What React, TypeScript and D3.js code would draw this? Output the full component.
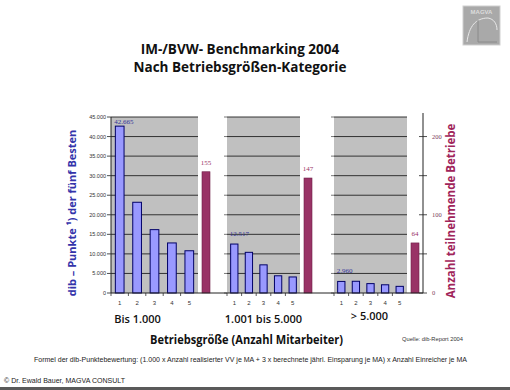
import React from 'react';
import * as d3 from 'd3';

// chart data
const groups = ['Bis 1.000', '1.001 bis 5.000', '> 5.000'];
const ranks = ['1', '2', '3', '4', '5'];
const pointsSmall = [42665, 23200, 16200, 12800, 10800];
const pointsMid = [12517, 10400, 7200, 4400, 4100];
const pointsLarge = [2960, 3000, 2400, 2100, 1700];
const companies = [155, 147, 64];
const leftTicks = [0, 5000, 10000, 15000, 20000, 25000, 30000, 35000, 40000, 45000];
const rightTicks = [0, 50, 100, 150, 200];
const rightLabels = [0, 100, 200];

const points = [pointsSmall, pointsMid, pointsLarge];

const W = 510;
const H = 390;
const panels: [number, number][] = [[111, 198], [227, 300], [334, 407]];
const baseY = 293;
const topY = 117;
const axisRX = 423;

const de = d3.formatLocale({ decimal: ',', thousands: '.', grouping: [3], currency: ['', '€'] });
const fmt = de.format(',.0f');

const BLUE = '#9999ff';
const RED = '#993366';
const SANS = '"Liberation Sans", Arial, sans-serif';
const TITLE = '"Open Sans", "DejaVu Sans", sans-serif';

const App: React.FC = () => {
  const y = d3.scaleLinear().domain([0, 45000]).range([baseY, topY]);
  const yR = d3.scaleLinear().domain([0, 225]).range([baseY, topY]);

  return (
    <div style={{ position: 'absolute', left: 0, top: 0 }}>
      <svg width={W} height={H} style={{ display: 'block', background: '#fff' }}>
        {/* logo */}
        <g>
          <rect x={463} y={6} width={37} height={39} fill="#a9a9a9" stroke="#cfcfcf" />
          <text x={481.5} y={14} textAnchor="middle" fontSize={6} fontFamily={SANS} fill="#dcdcdc" fontWeight="bold">MAGVA</text>
          <path d="M467,42 C469,26 476,18 488,18 C494,19 497,24 497,30" fill="none" stroke="#e8e8e8" strokeWidth={1} />
          <line x1={478} y1={20} x2={478} y2={42} stroke="#8a8a8a" />
          <line x1={478} y1={42} x2={497} y2={42} stroke="#8a8a8a" />
        </g>

        {/* titles */}
        <text x={240} y={54} textAnchor="middle" fontFamily={TITLE} fontWeight="bold" fontSize={13.5} fill="#111">
          IM-/BVW- Benchmarking 2004
        </text>
        <text x={240} y={72} textAnchor="middle" fontFamily={TITLE} fontWeight="bold" fontSize={13.5} fill="#111">
          Nach Betriebsgrößen-Kategorie
        </text>

        {/* panels */}
        {panels.map(([x0, x1], gi) => {
          const x = d3.scaleBand<string>().domain(ranks).range([x0, x1]).paddingInner(0.5).paddingOuter(0.25);
          const vals = points[gi];
          const redX = x1 + 4;
          const redW = 8;
          const redTop = yR(companies[gi]);
          return (
            <g key={gi}>
              <rect x={x0} y={topY} width={x1 - x0} height={baseY - topY} fill="#c0c0c0" />
              {leftTicks.slice(1).map(t => (
                <line key={t} x1={x0} x2={x1} y1={y(t)} y2={y(t)} stroke="#222" strokeWidth={0.9} />
              ))}
              {gi > 0 && leftTicks.map(t => (
                <line key={'k' + t} x1={x0 - 3} x2={x0} y1={y(t)} y2={y(t)} stroke="#555" strokeWidth={0.8} />
              ))}
              {vals.map((v, i) => (
                <rect key={i} x={x(ranks[i])!} y={y(v)} width={x.bandwidth()} height={baseY - y(v)}
                  fill={BLUE} stroke="#000066" strokeWidth={1} />
              ))}
              <text x={x(ranks[0])! - 1} y={Math.max(y(vals[0]) - 8, 124)} fontFamily='"Liberation Serif", serif'
                fontSize={7} fill="#333399">{fmt(vals[0])}</text>
              {ranks.map(r => (
                <g key={r}>
                  <text x={x(r)! + x.bandwidth() / 2} y={305} textAnchor="middle" fontFamily={SANS} fontSize={6} fill="#333">{r}</text>
                  <line x1={x(r)! - x.step() * 0.25} x2={x(r)! - x.step() * 0.25} y1={baseY} y2={baseY + 3} stroke="#333" strokeWidth={0.8} />
                </g>
              ))}
              <rect x={redX} y={redTop} width={redW} height={baseY - redTop} fill={RED} stroke="#6e1f48" strokeWidth={0.6} />
              <text x={redX + redW / 2} y={redTop - 7} textAnchor="middle" fontFamily='"Liberation Serif", serif'
                fontSize={7} fill={RED}>{companies[gi]}</text>
              <text x={(x0 + x1) / 2 + (gi === 0 ? -17 : gi === 2 ? -1 : 0)} y={gi === 2 ? 320 : 323} textAnchor="middle"
                fontFamily={TITLE} fontWeight={600} fontSize={11} fill="#111">{groups[gi]}</text>
            </g>
          );
        })}

        {/* left axis */}
        <line x1={panels[0][0]} x2={panels[0][0]} y1={topY} y2={baseY} stroke="#222" />
        {leftTicks.map(t => (
          <g key={t}>
            <line x1={panels[0][0] - 4} x2={panels[0][0]} y1={y(t)} y2={y(t)} stroke="#222" strokeWidth={0.8} />
            <text x={panels[0][0] - 5} y={y(t) + 2} textAnchor="end" fontFamily={SANS} fontSize={5.5} fill="#333">{fmt(t)}</text>
          </g>
        ))}
        <text transform={`translate(76,${(topY + baseY) / 2 + 8}) rotate(-90)`} textAnchor="middle" fontFamily={TITLE}
          fontWeight="bold" fontSize={11} fill="#3333aa">dib – Punkte ¹) der  fünf Besten</text>

        {/* baseline */}
        <line x1={panels[0][0]} x2={axisRX} y1={baseY} y2={baseY} stroke="#222" />

        {/* right axis */}
        <line x1={axisRX} x2={axisRX} y1={113} y2={baseY} stroke="#222" />
        {rightTicks.map(t => (
          <line key={t} x1={axisRX - 4} x2={axisRX + 4} y1={yR(t)} y2={yR(t)} stroke="#222" strokeWidth={0.8} />
        ))}
        {rightLabels.map(t => (
          <text key={t} x={axisRX + 9} y={yR(t) + 2} fontFamily='"Liberation Serif", serif' fontSize={6.5} fill="#7a3a5a">{t}</text>
        ))}
        <text transform={`translate(455,${(topY + baseY) / 2 + 6}) rotate(-90)`} textAnchor="middle" fontFamily={TITLE}
          fontWeight="bold" fontSize={11.5} fill="#a0245a">Anzahl teilnehmende Betriebe</text>

        {/* x axis title and notes */}
        <text x={246.5} y={344} textAnchor="middle" fontFamily={TITLE} fontWeight="bold" fontSize={11.5}
          textLength={193} lengthAdjust="spacingAndGlyphs" fill="#111">Betriebsgröße (Anzahl Mitarbeiter)</text>
        <text x={402} y={341} fontFamily={SANS} fontSize={5.3} textLength={61} lengthAdjust="spacingAndGlyphs" fill="#333">Quelle: dib-Report 2004</text>
        <text x={34} y={362} fontFamily={SANS} fontSize={6.5} textLength={433} lengthAdjust="spacingAndGlyphs" fill="#222">
          Formel der dib-Punktebewertung: (1.000 x Anzahl realisierter VV je MA + 3 x berechnete jährl. Einsparung je MA) x Anzahl Einreicher je MA
        </text>
        <text x={4} y={383} fontFamily={SANS} fontSize={6.5} textLength={121} lengthAdjust="spacingAndGlyphs" fill="#222">
          © Dr. Ewald Bauer, MAGVA CONSULT
        </text>
        <rect x={0} y={387} width={W} height={3} fill="#5a5a5a" />
      </svg>
    </div>
  );
};

export default App;
